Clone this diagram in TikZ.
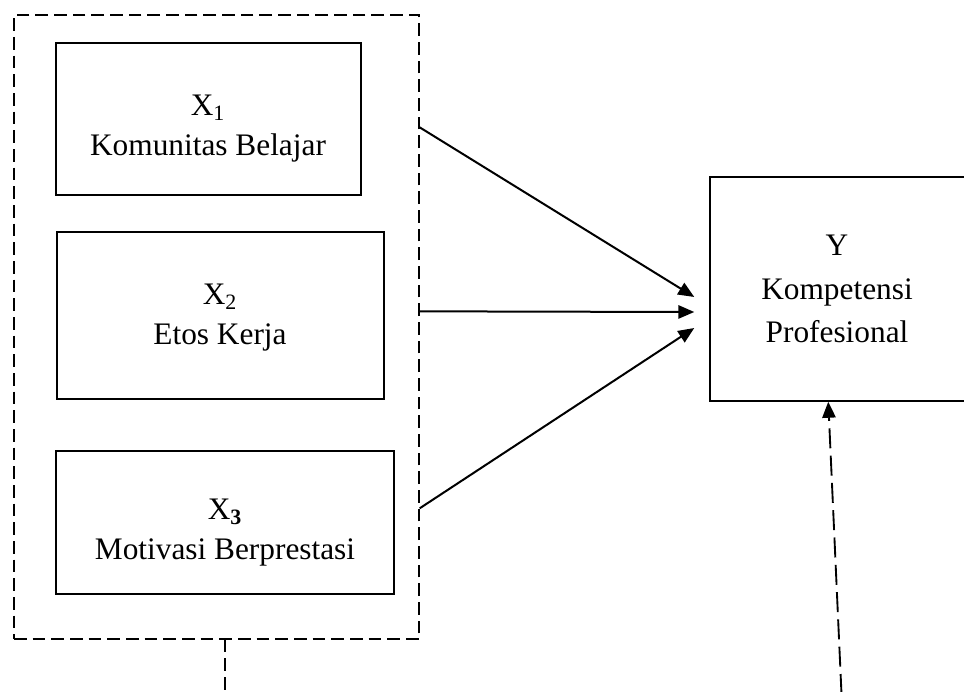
\documentclass[tikz,border=0pt]{standalone}
\usepackage{fontspec}
\setmainfont{Liberation Serif}
\usetikzlibrary{arrows.meta,calc}
\begin{document}
\begin{tikzpicture}[x=0.75pt,y=-0.75pt,
  box/.style={draw, line width=1.1pt, inner sep=0pt},
  lbl/.style={font=\fontsize{23.5}{30}\selectfont, align=center, inner sep=0pt},
  arr/.style={line width=1.5pt, -{Triangle[length=12pt,width=10pt]}},
  grpdash/.style={line width=1pt, dash pattern=on 9.5pt off 4.5pt},
  fbdash/.style={line width=1.4pt, dash pattern=on 15pt off 5.5pt, -{Triangle[length=12pt,width=10pt]}}]
\useasboundingbox (0,0) rectangle (964,692);
% group
\node[box, grpdash, minimum width=303.75pt, minimum height=468pt] (grp) at (216.5,327) {};
% boxes
\node[box, minimum width=228.75pt, minimum height=114pt] (x1) at (208.5,119) {};
\node[box, minimum width=245.25pt, minimum height=125.25pt] (x2) at (220.5,315.5) {};
\node[box, minimum width=253.5pt, minimum height=107.25pt] (x3) at (225,522.5) {};
\node[box, minimum width=192pt, minimum height=168pt] (y) at (838,289) {};
% labels
\node[lbl] (t1) at (208,129) {X\textsubscript{1}\\Komunitas Belajar};
\node[lbl] (t2) at (220,318) {X\textsubscript{2}\\Etos Kerja};
\node[lbl] (t3) at (225,533) {X\textsubscript{\textbf{3}}\\Motivasi Berprestasi};
\node[lbl, font=\fontsize{23.5}{32.6}\selectfont] (ty) at (837,289) {Y\\Kompetensi\\Profesional};
% arrows
\coordinate (s1) at ($(grp.north east)+(0,113)$);
\coordinate (s2) at ($(grp.north east)+(0,297)$);
\coordinate (s3) at ($(grp.north east)+(0,494)$);
\coordinate (e1) at ($(y.west)+(-15,8)$);
\coordinate (e2) at ($(y.west)+(-15,23)$);
\coordinate (e3) at ($(y.west)+(-15,39)$);
\draw[arr] (s1) -- (e1);
\draw[arr] (s2) -- (e2);
\draw[arr] (s3) -- (e3);
% dashed links
\coordinate (gb) at ($(grp.south)+(8.5,0)$);
\coordinate (gbend) at (225,694);
\draw[grpdash] (gb) -- (gbend);
\coordinate (fb) at (841.5,694);
\coordinate (yt) at ($(y.south west)+(119,0)$);
\draw[fbdash] (fb) -- (yt);
\end{tikzpicture}
\end{document}
